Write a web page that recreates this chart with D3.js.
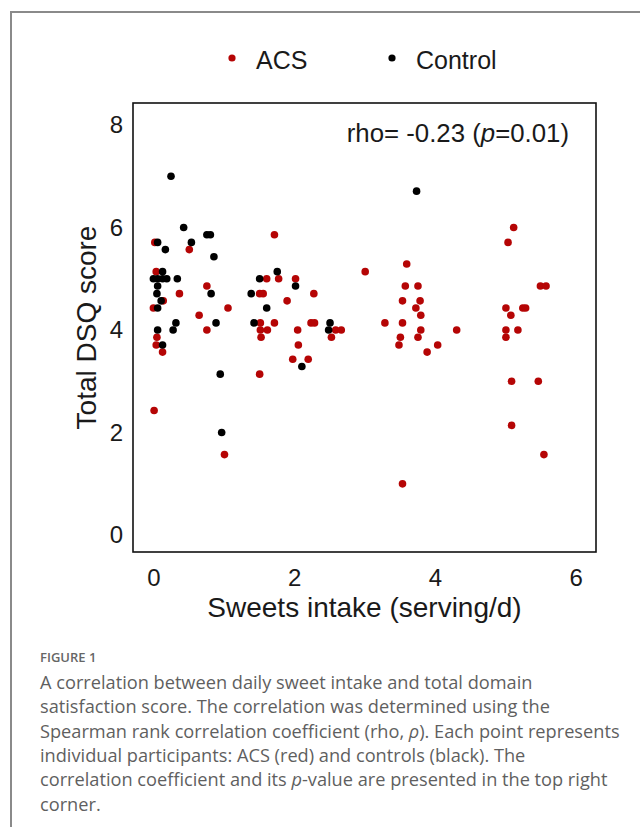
<!DOCTYPE html>
<html>
<head>
<meta charset="utf-8">
<script src="https://cdn.jsdelivr.net/npm/d3@7"></script>
<style>
  body { margin: 0; background: #fff; }
  svg { display: block; }
</style>
</head>
<body>
<svg id="chart"></svg>
<script>
// Sweets intake vs total DSQ score, ACS (red) and controls (black).

// Data
var acsX = [0.02, 0.51, 1.72, 0.04, 1.78, 1.61, 0.76, 0.37, 1.51, 1.56,
  0.14, 0.00, 1.06, 0.65, 1.52, 1.72, 0.76, 1.52, 1.62, 0.05,
  1.53, 0.04, 0.13, 1.51, 0.01, 1.01, 3.01, 2.02, 2.28, 1.90,
  2.24, 2.29, 2.59, 2.67, 2.05, 2.53, 2.06, 1.98, 2.20, 3.29,
  3.60, 3.58, 3.76, 3.54, 3.79, 3.73, 3.80, 3.54, 4.31, 3.80,
  3.51, 3.76, 3.49, 4.04, 3.89, 3.54, 5.12, 5.04, 5.50, 5.58,
  5.01, 5.25, 5.29, 5.08, 5.01, 5.18, 5.01, 5.09, 5.47, 5.09, 5.55]
var acsY = [5.71, 5.57, 5.86, 5.14, 5.00, 5.00, 4.86, 4.71, 4.71, 4.71,
  4.57, 4.43, 4.43, 4.29, 4.14, 4.14, 4.00, 4.00, 4.00, 3.86,
  3.86, 3.71, 3.57, 3.14, 2.43, 1.57, 5.14, 5.00, 4.71, 4.57,
  4.14, 4.14, 4.00, 4.00, 4.00, 3.86, 3.71, 3.43, 3.43, 4.14,
  5.29, 4.86, 4.86, 4.57, 4.57, 4.43, 4.29, 4.14, 4.00, 4.00,
  3.86, 3.86, 3.71, 3.71, 3.57, 1.00, 6.00, 5.71, 4.86, 4.86,
  4.43, 4.43, 4.43, 4.29, 4.00, 4.00, 3.86, 3.00, 3.00, 2.14, 1.57]
var controlX = [0.25, 0.43, 0.76, 0.81, 0.06, 0.54, 0.17, 0.86, 0.13, 0.00,
  0.06, 0.13, 0.19, 0.34, 1.76, 1.51, 0.06, 0.05, 0.82, 1.39,
  0.11, 0.06, 1.61, 0.32, 0.89, 1.43, 0.06, 0.28, 0.13, 0.95,
  0.97, 2.02, 2.51, 2.49, 2.11, 3.74]
var controlY = [7.00, 6.00, 5.86, 5.86, 5.71, 5.71, 5.57, 5.43, 5.14, 5.00,
  5.00, 5.00, 5.00, 5.00, 5.14, 5.00, 4.86, 4.71, 4.71, 4.71,
  4.57, 4.43, 4.43, 4.14, 4.14, 4.14, 4.00, 4.00, 3.71, 3.14,
  2.00, 4.86, 4.14, 4.00, 3.29, 6.71]
var xTicks = [0, 2, 4, 6]
var yTicks = [0, 2, 4, 6, 8]
var legendLabels = ['ACS', 'Control']
var groupColors = ['#b50505', '#000000']

var width = 640
var height = 827
var chartFont = '"Liberation Sans", Arial, sans-serif'
var captionFont = '"Open Sans", "Noto Sans", sans-serif'
var dotRadius = 3.8

var svg = d3.select('#chart').attr('width', width).attr('height', height)

// page frame (top and left rule)
svg.append('path')
  .attr('d', 'M11,' + height + 'V12H' + width)
  .attr('fill', 'none')
  .attr('stroke', '#8a8a8a')
  .attr('stroke-width', 2)

var x = d3.scaleLinear().domain([-0.29, 6.29]).range([133, 596])
var y = d3.scaleLinear().domain([-0.33, 8.43]).range([552, 103])

// panel border
svg.append('rect')
  .attr('x', x.range()[0])
  .attr('y', y.range()[1])
  .attr('width', x.range()[1] - x.range()[0])
  .attr('height', y.range()[0] - y.range()[1])
  .attr('fill', 'none')
  .attr('stroke', '#111')
  .attr('stroke-width', 1.6)

function styleAxis (g) {
  g.select('.domain').remove()
  g.selectAll('text')
    .attr('font-family', chartFont)
    .attr('font-size', 24)
    .attr('fill', '#1a1a1a')
}

svg.append('g')
  .attr('transform', 'translate(' + x.range()[0] + ',0)')
  .call(d3.axisLeft(y).tickValues(yTicks).tickFormat(d3.format('d')).tickSize(0).tickPadding(10))
  .call(styleAxis)

svg.append('g')
  .attr('transform', 'translate(0,' + y.range()[0] + ')')
  .call(d3.axisBottom(x).tickValues(xTicks).tickFormat(d3.format('d')).tickSize(0).tickPadding(17))
  .call(styleAxis)

// axis titles
svg.append('text')
  .attr('x', (x.range()[0] + x.range()[1]) / 2)
  .attr('y', 617)
  .attr('text-anchor', 'middle')
  .attr('font-family', chartFont)
  .attr('font-size', 28)
  .attr('fill', '#1a1a1a')
  .text('Sweets intake (serving/d)')

svg.append('text')
  .attr('transform', 'translate(96,' + (y.range()[0] + y.range()[1]) / 2 + ') rotate(-90)')
  .attr('text-anchor', 'middle')
  .attr('font-family', chartFont)
  .attr('font-size', 28)
  .attr('fill', '#1a1a1a')
  .text('Total DSQ score')

// points: ACS first, controls on top
var plot = svg.append('g')
var acs = d3.range(acsX.length).map(function (i) { return [acsX[i], acsY[i]] })
var ctrl = d3.range(controlX.length).map(function (i) { return [controlX[i], controlY[i]] })

plot.selectAll('circle.acs').data(acs).enter().append('circle')
  .attr('class', 'acs')
  .attr('cx', function (d) { return x(d[0]) })
  .attr('cy', function (d) { return y(d[1]) })
  .attr('r', dotRadius)
  .attr('fill', groupColors[0])

plot.selectAll('circle.ctrl').data(ctrl).enter().append('circle')
  .attr('class', 'ctrl')
  .attr('cx', function (d) { return x(d[0]) })
  .attr('cy', function (d) { return y(d[1]) })
  .attr('r', dotRadius)
  .attr('fill', groupColors[1])

// correlation annotation
var note = svg.append('text')
  .attr('x', 569)
  .attr('y', 142)
  .attr('text-anchor', 'end')
  .attr('font-family', chartFont)
  .attr('font-size', 25.8)
  .attr('fill', '#1a1a1a')
note.append('tspan').text('rho= -0.23 (')
note.append('tspan').attr('font-style', 'italic').text('p')
note.append('tspan').text('=0.01)')

// legend
var legendPos = [232, 392]
var legend = svg.append('g')
legendLabels.forEach(function (label, i) {
  legend.append('circle')
    .attr('cx', legendPos[i])
    .attr('cy', 58)
    .attr('r', 3.6)
    .attr('fill', groupColors[i])
  legend.append('text')
    .attr('x', legendPos[i] + 24)
    .attr('y', 69)
    .attr('font-family', chartFont)
    .attr('font-size', 25)
    .attr('fill', '#1a1a1a')
    .text(label)
})

// caption
svg.append('text')
  .attr('x', 40)
  .attr('y', 662)
  .attr('font-family', captionFont)
  .attr('font-size', 13)
  .attr('font-weight', 600)
  .attr('fill', '#666')
  .text('FIGURE 1')

var captionLines = [
  [['A correlation between daily sweet intake and total domain', false]],
  [['satisfaction score. The correlation was determined using the', false]],
  [['Spearman rank correlation coefficient (rho, ', false], ['\u03c1', true], ['). Each point represents', false]],
  [['individual participants: ACS (red) and controls (black). The', false]],
  [['correlation coefficient and its ', false], ['p', true], ['-value are presented in the top right', false]],
  [['corner.', false]]
]
var caption = svg.append('text')
  .attr('font-family', captionFont)
  .attr('font-size', 18.2)
  .attr('fill', '#5f5f5f')
captionLines.forEach(function (parts, i) {
  parts.forEach(function (p, j) {
    var t = caption.append('tspan').text(p[0])
    if (j === 0) t.attr('x', 40).attr('y', 689 + i * 24.3)
    if (p[1]) t.attr('font-style', 'italic')
  })
})
</script>
</body>
</html>
